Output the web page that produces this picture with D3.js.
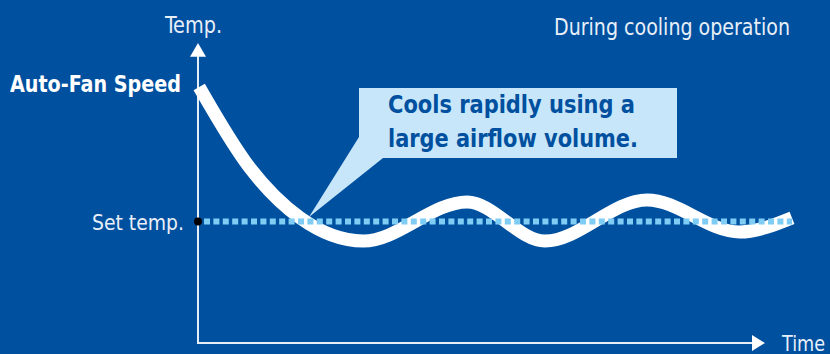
<!DOCTYPE html>
<html>
<head>
<meta charset="utf-8">
<script src="https://cdn.jsdelivr.net/npm/d3@7"></script>
<style>
  html, body { margin: 0; padding: 0; background: #0050a0; }
  svg { display: block; }
  text { font-family: "Liberation Sans Narrow", "DejaVu Sans Condensed", sans-serif; font-stretch: condensed; }
</style>
</head>
<body>
<svg id="viz"></svg>
<script>
// curve of room temperature over time (time 0..100, temp 0..100)
const timeValues = [0.2, 8.75, 17.2, 27.8, 45.3, 58.4, 75.6, 91.2, 100];
const tempValues = [85.3, 58.3, 41.7, 34, 47, 34, 47.7, 37, 41.7];
const setTemp = 40.5;
const axisLabels = ['Temp.', 'Time'];
const setLabel = 'Set temp.';
const modeLabel = 'Auto-Fan Speed';
const noteLines = ['Cools rapidly using a', 'large airflow volume.'];
const title = 'During cooling operation';

var width = 830, height = 354;
var margin = {top: 43, right: 38, bottom: 11, left: 198};

var svg = d3.select('#viz').attr('width', width).attr('height', height);
svg.append('rect').attr('width', width).attr('height', height).attr('fill', '#0050a0');

var x = d3.scaleLinear().domain([0, 100]).range([margin.left, width - margin.right]);
var y = d3.scaleLinear().domain([0, 100]).range([height - margin.bottom, margin.top]);

var axisColor = '#e6eef7';
var x0 = x(0), y0 = y(0);

// axes
svg.append('line').attr('x1', x0).attr('x2', x0).attr('y1', y0).attr('y2', y(96))
   .attr('stroke', axisColor).attr('stroke-width', 2);
svg.append('path').attr('d', `M${x0},${y(100)}L${x0 - 8},${y(95.4)}L${x0 + 8},${y(95.4)}Z`).attr('fill', '#fff');
svg.append('line').attr('x1', x0 - 1).attr('x2', 754).attr('y1', y0).attr('y2', y0)
   .attr('stroke', axisColor).attr('stroke-width', 2);
svg.append('path').attr('d', `M765,${y0}L752,${y0 - 8}L752,${y0 + 8}Z`).attr('fill', '#fff');

// callout box
svg.append('path')
   .attr('d', 'M359,88L677,88L677,158L383,158L309,217L359,137Z')
   .attr('fill', '#c8e6f9');

// temperature curve
var line = d3.line().x((d, i) => x(timeValues[i])).y(d => y(d)).curve(d3.curveMonotoneX);
svg.append('path').datum(tempValues)
   .attr('d', line)
   .attr('fill', 'none').attr('stroke', '#fff').attr('stroke-width', 13);

// set temperature dotted line
svg.append('line').attr('x1', x0 + 6).attr('x2', x(100)).attr('y1', y(setTemp)).attr('y2', y(setTemp))
   .attr('stroke', '#7fcdf5').attr('stroke-width', 6).attr('stroke-dasharray', '6,3.4');
svg.append('circle').attr('cx', x0).attr('cy', y(setTemp)).attr('r', 4).attr('fill', '#000');

// texts
var light = '#e8eff8';
function label(txt, px, py, size, len, anchor) {
    return svg.append('text').attr('x', px).attr('y', py).attr('text-anchor', anchor || 'start')
        .attr('font-size', size).attr('fill', light)
        .attr('textLength', len).attr('lengthAdjust', 'spacingAndGlyphs').text(txt);
}
label(axisLabels[0], 165, 33, 23, 57);
label(axisLabels[1], 782, 351, 22, 43);
label(title, 554, 35, 23, 236);
label(setLabel, 92, 230, 22, 92);
label(modeLabel, 10, 92, 23, 171).attr('font-weight', 'bold').attr('fill', '#fff');
svg.selectAll('.note').data(noteLines).enter().append('text')
   .attr('class', 'note').attr('x', 388).attr('y', (d, i) => 113 + i * 34)
   .attr('font-size', 25).attr('font-weight', 'bold').attr('fill', '#0050a0')
   .attr('textLength', (d, i) => [247, 250][i]).attr('lengthAdjust', 'spacingAndGlyphs')
   .text(d => d);
</script>
</body>
</html>
